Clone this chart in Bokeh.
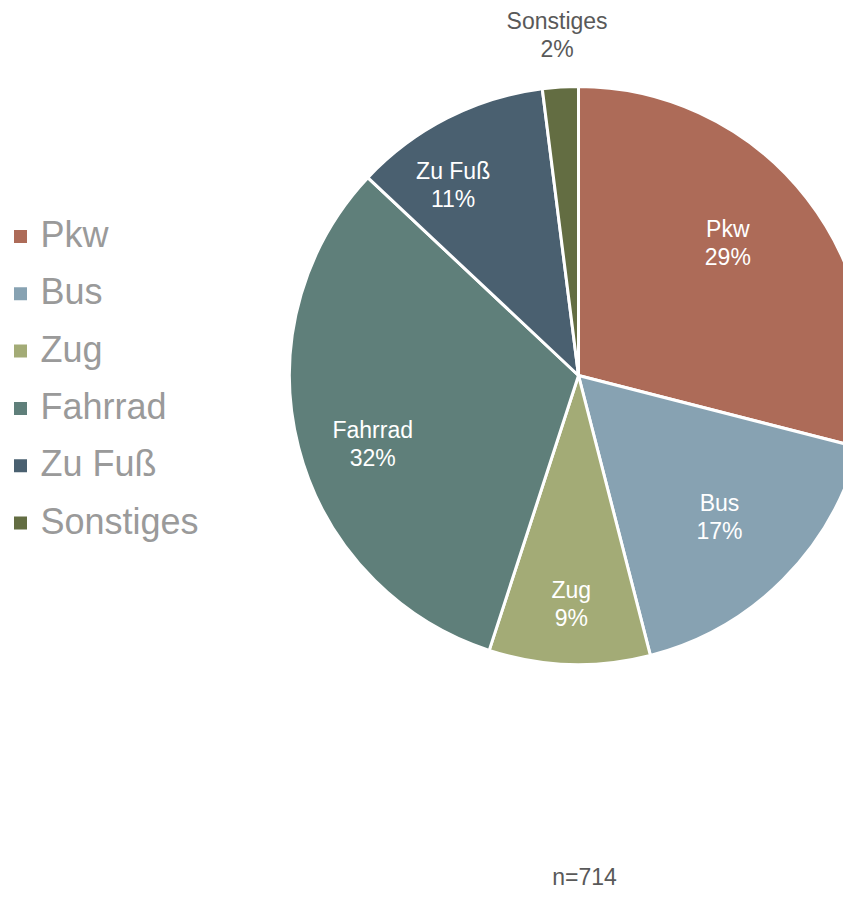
import math
from bokeh.plotting import figure
from bokeh.models import Range1d, ColumnDataSource
from bokeh.core.properties import value
from bokeh.embed import file_html
from bokeh.resources import INLINE

# ---- data ----
categories = ["Pkw", "Bus", "Zug", "Fahrrad", "Zu Fuß", "Sonstiges"]
shares = [29, 17, 9, 32, 11, 2]
colors = ["#AD6B58", "#87A2B2", "#A3AB76", "#5F7F7A", "#4A6070", "#636D42"]
sample_note = "n=714"

# ---- layout / style ----
W, H = 843, 890
CX, CY, R = 578, H - 375, 289
label_frac = [0.69, 0.69, 0.79, 0.75, 0.79, 1.18]
label_dang = [3.7, 0.0, 0.0, 3.9, 6.3, 0.0]   # degrees nudge
label_color = ["white", "white", "white", "white", "white", "#595959"]
FONT = "Liberation Sans"

p = figure(width=W, height=H, output_backend="svg", toolbar_location=None,
           x_range=Range1d(0, W), y_range=Range1d(0, H), min_border=0)
p.axis.visible = False
p.grid.visible = False
p.outline_line_color = None

total = float(sum(shares))
starts, ends, mids = [], [], []
a = math.pi / 2
for s in shares:
    span = 2 * math.pi * s / total
    starts.append(a)
    ends.append(a - span)
    mids.append(a - span / 2)
    a -= span

src = ColumnDataSource(dict(start=starts, end=ends, color=colors))
p.wedge(x=CX, y=CY, radius=R, start_angle="end", end_angle="start",
        fill_color="color", line_color="white", line_width=3, source=src)

# slice labels
ang = [m + math.radians(d) for m, d in zip(mids, label_dang)]
lx = [CX + R * f * math.cos(t) for f, t in zip(label_frac, ang)]
ly = [CY + R * f * math.sin(t) for f, t in zip(label_frac, ang)]
lab_src = ColumnDataSource(dict(x=lx, y=ly, name=categories,
                                pct=[f"{s}%" for s in shares], c=label_color))
p.text(x="x", y="y", text="name", text_color="c", source=lab_src,
       text_font=value(FONT), text_font_size="23px", text_align="center",
       text_baseline="middle", y_offset=-14)
p.text(x="x", y="y", text="pct", text_color="c", source=lab_src,
       text_font=value(FONT), text_font_size="23px", text_align="center",
       text_baseline="middle", y_offset=14)

# legend (manual)
LEG_X, LEG_Y0, LEG_DY = 20, H - 236, 57.3
leg_y = [LEG_Y0 - i * LEG_DY for i in range(len(categories))]
leg_src = ColumnDataSource(dict(y=leg_y, name=categories, color=colors))
p.scatter(x=LEG_X, y="y", marker="square", size=13, fill_color="color",
          line_color=None, source=leg_src)
p.text(x=LEG_X + 20, y="y", text="name", source=leg_src, text_color="#9a9a9a",
       text_font=value(FONT), text_font_size="36px", text_align="left",
       text_baseline="middle", y_offset=-2)

# sample size note
p.text(x=[584], y=[H - 876], text=[sample_note], text_color="#595959",
       text_font=value(FONT), text_font_size="23px", text_align="center",
       text_baseline="middle")

open("out.html", "w").write(file_html(p, INLINE))
